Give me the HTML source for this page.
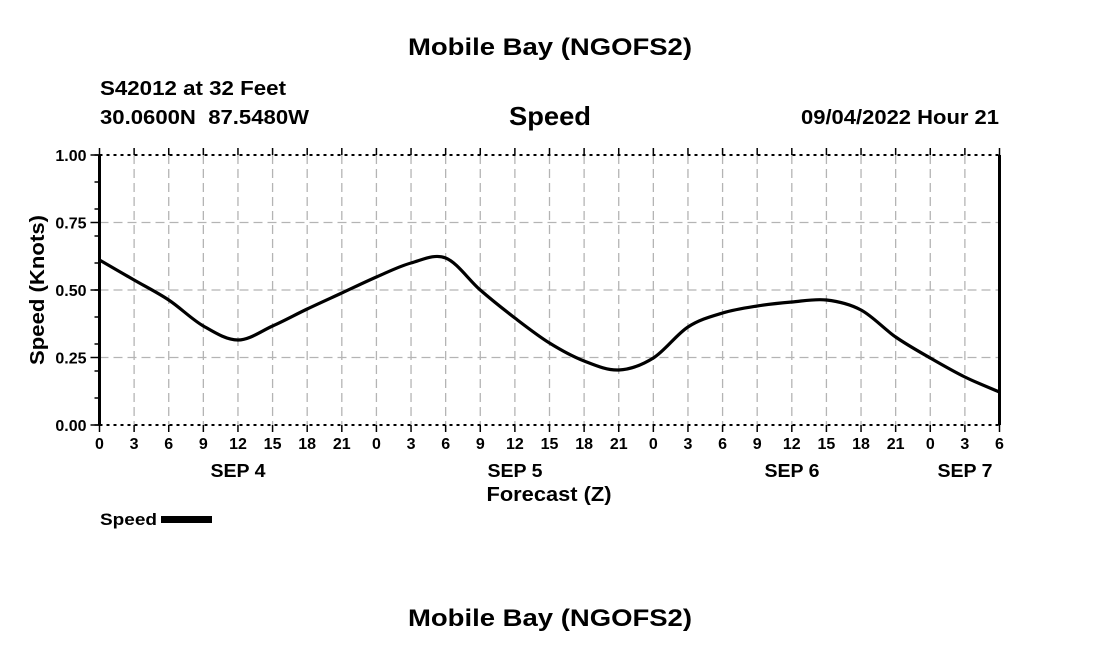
<!DOCTYPE html>
<html><head><meta charset="utf-8"><style>
body{margin:0;background:#fff;width:1100px;height:650px;overflow:hidden;font-family:"Liberation Sans",Arial,sans-serif}
</style></head><body>
<svg id="s" width="1100" height="650" xmlns="http://www.w3.org/2000/svg" font-family="Liberation Sans, Arial, sans-serif" font-weight="bold">
<text x="550" y="55" font-size="24" text-anchor="middle" textLength="284" lengthAdjust="spacingAndGlyphs">Mobile Bay (NGOFS2)</text>
<text x="100" y="95" font-size="20" textLength="186" lengthAdjust="spacingAndGlyphs">S42012 at 32 Feet</text>
<text x="100" y="124" font-size="20" textLength="209" lengthAdjust="spacingAndGlyphs" xml:space="preserve">30.0600N  87.5480W</text>
<text x="550" y="125" font-size="26" text-anchor="middle" textLength="82" lengthAdjust="spacingAndGlyphs">Speed</text>
<text x="801" y="124" font-size="20" textLength="198" lengthAdjust="spacingAndGlyphs">09/04/2022 Hour 21</text>
<g id="grid" stroke="#b4b4b4" stroke-width="1.3" stroke-dasharray="9,5"></g>
<g id="ax" stroke="#000"></g>
<g id="lab" font-size="16"></g>
<text x="515" y="477" font-size="18" text-anchor="middle" textLength="55" lengthAdjust="spacingAndGlyphs">SEP 5</text>
<text x="238" y="477" font-size="18" text-anchor="middle" textLength="55" lengthAdjust="spacingAndGlyphs">SEP 4</text>
<text x="792" y="477" font-size="18" text-anchor="middle" textLength="55" lengthAdjust="spacingAndGlyphs">SEP 6</text>
<text x="965" y="477" font-size="18" text-anchor="middle" textLength="55" lengthAdjust="spacingAndGlyphs">SEP 7</text>
<text x="549" y="501" font-size="20" text-anchor="middle" textLength="125" lengthAdjust="spacingAndGlyphs">Forecast (Z)</text>
<text transform="translate(44,290) rotate(-90)" font-size="20" text-anchor="middle" textLength="150" lengthAdjust="spacingAndGlyphs">Speed (Knots)</text>
<text x="100" y="525" font-size="17" textLength="57" lengthAdjust="spacingAndGlyphs">Speed</text>
<rect x="161" y="516" width="51" height="7" fill="#000"/>
<path id="curve" fill="none" stroke="#000" stroke-width="3.2"/>
<text x="550" y="626" font-size="24" text-anchor="middle" textLength="284" lengthAdjust="spacingAndGlyphs">Mobile Bay (NGOFS2)</text>
</svg>
<script>
var NS="http://www.w3.org/2000/svg";
function el(p,t,a,txt){var e=document.createElementNS(NS,t);for(var k in a)e.setAttribute(k,a[k]);if(txt!=null)e.textContent=txt;document.getElementById(p).appendChild(e);}
var x0=99.5,x1=999.5,yT=155,yB=425;
function X(h){return x0+(x1-x0)*h/78;}
for(var h=3;h<78;h+=3){el('grid','line',{x1:X(h),x2:X(h),y1:yT,y2:yB});}
[0.25,0.5,0.75].forEach(function(v){var y=yB-270*v;el('grid','line',{x1:x0,x2:x1,y1:y,y2:y});});
el('ax','line',{x1:x0,x2:x1,y1:yT,y2:yT,'stroke-width':2,'stroke-dasharray':'3,4'});
el('ax','line',{x1:x0,x2:x1,y1:yB,y2:yB,'stroke-width':2,'stroke-dasharray':'3,4'});
el('ax','line',{x1:x0,x2:x0,y1:yT,y2:yB,'stroke-width':3});
el('ax','line',{x1:x1,x2:x1,y1:yT,y2:yB,'stroke-width':3});
for(var h=0;h<=78;h+=3){var x=X(h);el('ax','line',{x1:x,x2:x,y1:yT-7,y2:yT,'stroke-width':1.5});el('ax','line',{x1:x,x2:x,y1:yB,y2:yB+7,'stroke-width':1.5});
el('lab','text',{x:x,y:yB+24,'text-anchor':'middle'},String(h%24));}
for(var i=0;i<=10;i++){var y=yB-27*i;el('ax','line',{x1:x0-5,x2:x0,y1:y,y2:y,'stroke-width':1.5});}
['0.00','0.25','0.50','0.75','1.00'].forEach(function(t,i){var y=yB-67.5*i;el('ax','line',{x1:x0-9,x2:x0,y1:y,y2:y,'stroke-width':1.5});el('lab','text',{x:x0-13,y:y+6,'text-anchor':'end'},t);});
var ys=[260,280,300,326,340,326,309,293,277,263,258,290,318,343,361,370,358,327,313,306,302,300,310,337,358,377,392];
var P=ys.map(function(y,i){return [X(i*3),y];});
var d='M'+P[0][0]+','+P[0][1];
for(var i=0;i<P.length-1;i++){var p0=P[Math.max(i-1,0)],p1=P[i],p2=P[i+1],p3=P[Math.min(i+2,P.length-1)];
d+=' C'+(p1[0]+(p2[0]-p0[0])/6)+','+(p1[1]+(p2[1]-p0[1])/6)+' '+(p2[0]-(p3[0]-p1[0])/6)+','+(p2[1]-(p3[1]-p1[1])/6)+' '+p2[0]+','+p2[1];}
document.getElementById('curve').setAttribute('d',d);
</script>
</body></html>
